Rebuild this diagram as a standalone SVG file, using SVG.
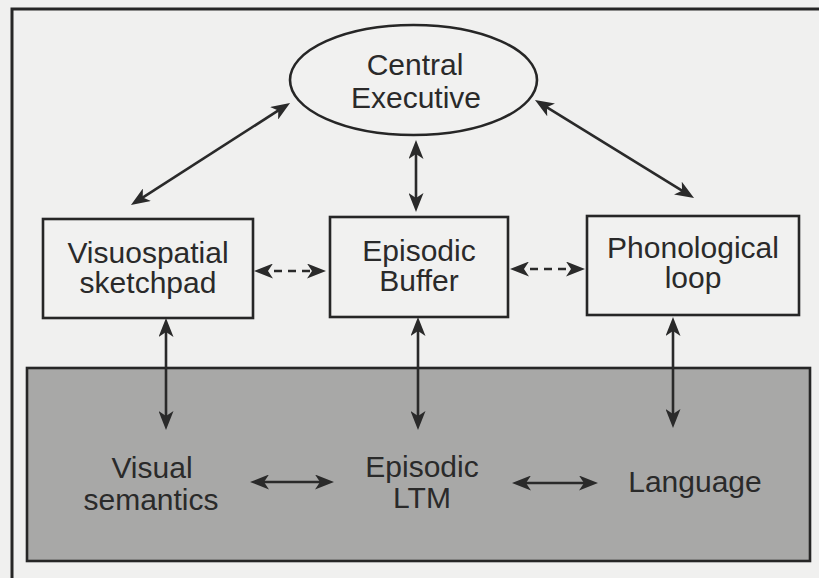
<svg xmlns="http://www.w3.org/2000/svg" width="819" height="578" viewBox="0 0 819 578">
  <style>
    .node { fill: #f1f1f0; stroke: #262626; stroke-width: 2.6; }
    .ltm { fill: #a8a8a7; stroke: #262626; stroke-width: 2.6; }
    .label { font-family: "Liberation Sans", Arial, sans-serif; font-size: 30px; fill: #2a2a2a; text-anchor: middle; }
    .link { stroke: #2a2a2a; stroke-width: 2.6; fill: none; marker-start: url(#head); marker-end: url(#head); }
    .dashed { stroke-dasharray: 8 6; }
  </style>
  <defs>
    <marker id="head" viewBox="0 0 19 15" refX="13" refY="7.5" markerWidth="19" markerHeight="15" markerUnits="userSpaceOnUse" orient="auto-start-reverse">
      <path d="M0,0 L19,7.5 L0,15 L5,7.5 Z" fill="#2a2a2a" stroke="none"/>
    </marker>
  </defs>

  <!-- page background and frame -->
  <rect x="0" y="0" width="819" height="578" fill="#f0f0ef"/>
  <path d="M12,578 L12,9 L819,9" fill="none" stroke="#262626" stroke-width="3"/>

  <!-- long-term memory band -->
  <g id="ltm-band">
    <rect class="ltm" x="27" y="368" width="783" height="193"/>
  </g>

  <g id="central-executive">
    <ellipse class="node" cx="413.5" cy="80" rx="123.5" ry="55"/>
    <text class="label" x="415" y="75">Central</text>
    <text class="label" x="416" y="108">Executive</text>
  </g>

  <g id="visuospatial-sketchpad">
    <rect class="node" x="43" y="219" width="210" height="99"/>
    <text class="label" x="148" y="263">Visuospatial</text>
    <text class="label" x="148" y="293">sketchpad</text>
  </g>

  <g id="episodic-buffer">
    <rect class="node" x="330" y="217" width="178" height="100"/>
    <text class="label" x="419" y="261">Episodic</text>
    <text class="label" x="419" y="291">Buffer</text>
  </g>

  <g id="phonological-loop">
    <rect class="node" x="587" y="216" width="212" height="99"/>
    <text class="label" x="693" y="258">Phonological</text>
    <text class="label" x="693" y="288">loop</text>
  </g>

  <g id="visual-semantics">
    <text class="label" x="152" y="478">Visual</text>
    <text class="label" x="151" y="510">semantics</text>
  </g>

  <g id="episodic-ltm">
    <text class="label" x="422" y="477">Episodic</text>
    <text class="label" x="422" y="508">LTM</text>
  </g>

  <g id="language">
    <text class="label" x="695" y="492">Language</text>
  </g>

  <g id="connectors">
    <!-- central executive to slave systems -->
    <path class="link" d="M285,106.2 L136,201.8"/>
    <path class="link" d="M416,146 L416,206"/>
    <path class="link" d="M540.1,103.1 L688.9,194.9"/>
    <!-- buffer links -->
    <path class="link dashed" d="M260,271 L320,271"/>
    <path class="link dashed" d="M516,269 L579,269"/>
    <!-- links into long-term memory -->
    <path class="link" d="M166,324 L166,424"/>
    <path class="link" d="M418,323 L418,424"/>
    <path class="link" d="M673,323 L673,422"/>
    <!-- links within long-term memory -->
    <path class="link" d="M256,482 L328,482"/>
    <path class="link" d="M518,483 L592,483"/>
  </g>
</svg>
